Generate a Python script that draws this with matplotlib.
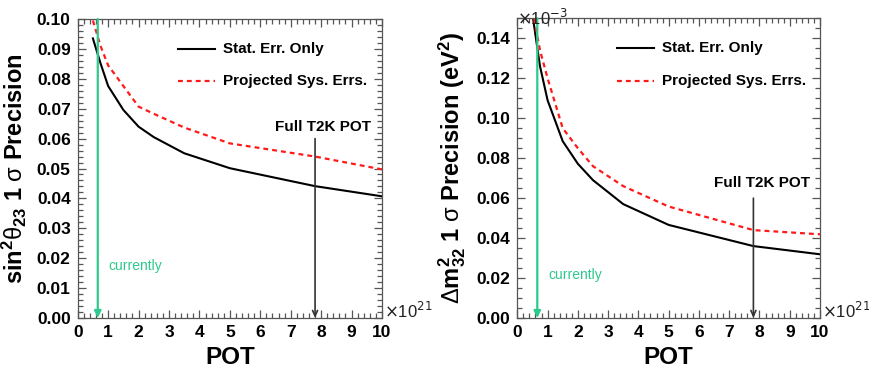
import matplotlib
matplotlib.use("Agg")
import matplotlib.pyplot as plt
from matplotlib.ticker import MultipleLocator

plt.rcParams['font.family'] = ['Liberation Sans', 'DejaVu Sans']
plt.rcParams['mathtext.fontset'] = 'custom'
plt.rcParams['mathtext.rm'] = 'Liberation Sans:bold'
plt.rcParams['mathtext.it'] = 'Liberation Sans:bold'
plt.rcParams['mathtext.bf'] = 'Liberation Sans:bold'
plt.rcParams['mathtext.sf'] = 'Liberation Sans'

# POT in units of 1e21
pot = [0.5, 0.75, 1.0, 1.5, 2.0, 2.5, 3.5, 5.0, 7.8, 10.0]

# sin^2(theta23) 1-sigma precision
th_stat = [0.0935, 0.0852, 0.0776, 0.0696, 0.0640, 0.0605, 0.0551, 0.0501, 0.0441, 0.0407]
th_sys = [0.0995, 0.0910, 0.0845, 0.0776, 0.0707, 0.0683, 0.0637, 0.0584, 0.0540, 0.0497]

# Delta m^2_32 1-sigma precision (x1e-3 eV^2)
dm_stat = [0.1520, 0.1260, 0.1090, 0.0885, 0.0772, 0.0690, 0.0570, 0.0466, 0.0360, 0.0319]
dm_sys = [0.1540, 0.1340, 0.1200, 0.0950, 0.0850, 0.0760, 0.0660, 0.0558, 0.0440, 0.0419]

current_pot = 0.66
full_pot = 7.8

green = '#2ec98d'
frame = '#555555'

fig = plt.figure(figsize=(8.69, 3.74), dpi=100)


def style_axis(ax, ymax, ymajor, yminor, yfmt):
    ax.set_xlim(0, 10)
    ax.set_ylim(0, ymax)
    ax.xaxis.set_major_locator(MultipleLocator(1))
    ax.xaxis.set_minor_locator(MultipleLocator(0.2))
    ax.yaxis.set_major_locator(MultipleLocator(ymajor))
    ax.yaxis.set_minor_locator(MultipleLocator(yminor))
    ax.tick_params(which='both', direction='in', top=True, right=True,
                   color=frame, width=0.9)
    ax.tick_params(which='major', length=6, labelsize=12.5, pad=5)
    ax.tick_params(which='minor', length=3.5)
    ax.set_yticklabels([yfmt.format(v) for v in ax.get_yticks()])
    ax.set_xticklabels([f"{int(v)}" for v in ax.get_xticks()])
    for lab in ax.get_xticklabels() + ax.get_yticklabels():
        lab.set_fontweight('bold')
    for s in ax.spines.values():
        s.set_color(frame)
        s.set_linewidth(0.9)
    ax.set_xlabel('POT', fontsize=17.5, fontweight='bold', labelpad=4)
    ax.text(1.005, 0.025, r'$\times$10$^{21}$', transform=ax.transAxes,
            fontsize=12, color='#222222', ha='left', va='center',
            math_fontfamily='dejavusans')


def draw_panel(ax, stat, sys, ymax, leg_y1, leg_y2, full_y, full_text_y, cur_y):
    ax.plot(pot, stat, color='black', lw=1.5, clip_on=True)
    ax.plot(pot, sys, color='#ff1a1a', lw=1.6, ls=(0, (2.2, 1.8)))
    # legend drawn inside the frame
    ax.plot([3.3, 4.5], [leg_y1, leg_y1], color='black', lw=1.5)
    ax.plot([3.3, 4.5], [leg_y2, leg_y2], color='#ff1a1a', lw=1.6, ls=(0, (2.2, 1.8)))
    ax.text(4.77, leg_y1, 'Stat. Err. Only', fontsize=11, fontweight='bold',
            va='center', ha='left')
    ax.text(4.77, leg_y2, 'Projected Sys. Errs.', fontsize=11, fontweight='bold',
            va='center', ha='left')
    # current exposure marker
    ax.annotate('', xy=(current_pot, 0.0), xytext=(current_pot, ymax),
                arrowprops=dict(arrowstyle='-|>,head_length=0.4,head_width=0.2',
                                color=green, lw=1.6, shrinkA=0, shrinkB=0))
    ax.text(1.02, cur_y, 'currently', color=green, fontsize=10,
            ha='left', va='center')
    # full T2K exposure marker
    ax.annotate('', xy=(full_pot, 0.0), xytext=(full_pot, full_y),
                arrowprops=dict(arrowstyle='->,head_length=0.4,head_width=0.18',
                                color='#333333', lw=1.2, shrinkA=0, shrinkB=0))
    ax.text(8.07, full_text_y, 'Full T2K POT', fontsize=11, fontweight='bold',
            ha='center', va='center')


# left: mixing angle precision
ax1 = fig.add_axes([0.0894, 0.1497, 0.3502, 0.7995])
draw_panel(ax1, th_stat, th_sys, 0.10, 0.0900, 0.0793, 0.0600, 0.0640, 0.0173)
style_axis(ax1, 0.10, 0.01, 0.002, '{:.2f}')
ax1.set_ylabel(r'sin$^{2}\mathsf{\theta}_{23}$ 1 $\mathsf{\sigma}$ Precision', fontsize=17,
               fontweight='bold', labelpad=6)

# right: mass splitting precision
ax2 = fig.add_axes([0.5953, 0.1497, 0.3483, 0.8013])
draw_panel(ax2, dm_stat, dm_sys, 0.15, 0.1350, 0.1187, 0.0600, 0.0675, 0.0213)
style_axis(ax2, 0.15, 0.02, 0.005, '{:.2f}')
ax2.set_ylabel(r'$\mathsf{\Delta}$m$^{2}_{32}$ 1 $\mathsf{\sigma}$ Precision (eV$^{2}$)',
               fontsize=17, fontweight='bold', labelpad=6)
ax2.text(0.0, 1.0, r'$\times$10$^{-3}$', transform=ax2.transAxes, fontsize=12,
         color='#222222', ha='left', va='center', math_fontfamily='dejavusans')

fig.savefig('out.png', dpi=100)
